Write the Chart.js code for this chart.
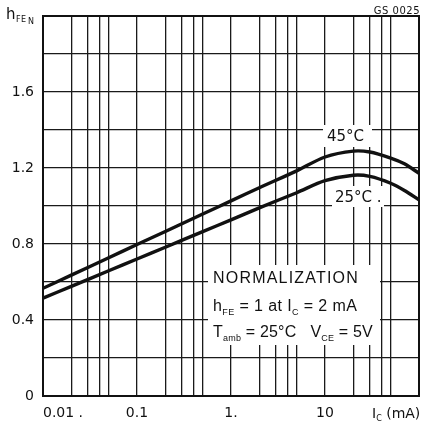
<!DOCTYPE html>
<html>
<head>
<meta charset="utf-8">
<script src="https://cdn.jsdelivr.net/npm/chart.js@4/dist/chart.umd.min.js"></script>
<style>
  html, body { margin: 0; padding: 0; background: #fff; }
  #wrap { width: 424px; height: 426px; }
</style>
</head>
<body>
<div id="wrap"><canvas id="hfeChart" width="424" height="426"></canvas></div>
<script>
// collector current Ic (mA)
var currents = [0.01, 0.02, 0.05, 0.1, 0.2, 0.5, 1, 2, 5, 10, 20, 30, 50, 70, 100];
// normalized hFE, 45 degC
var hfe45 = [0.567, 0.636, 0.728, 0.797, 0.866, 0.958, 1.027, 1.096, 1.185, 1.258, 1.289, 1.284, 1.252, 1.222, 1.172];
// normalized hFE, 25 degC
var hfe25 = [0.515, 0.577, 0.659, 0.721, 0.783, 0.865, 0.927, 0.99, 1.07, 1.133, 1.162, 1.156, 1.12, 1.082, 1.032];

// grid lines on the log axis: 1,2,3,4,5 of every decade
var xGrid = [0.01, 0.02, 0.03, 0.04, 0.05, 0.1, 0.2, 0.3, 0.4, 0.5, 1, 2, 3, 4, 5, 10, 20, 30, 40, 50, 100];
var xLabels = {0.01: '         0.01 .', 0.1: '0.1', 1: '1.', 10: '10'};
var yLabels = [0, 0.4, 0.8, 1.2, 1.6];

function toPoints(xs, ys) {
    return xs.map(function (x, i) { return {x: x, y: ys[i]}; });
}

// draw a run of text pieces, some of them subscripts
function drawRich(ctx, parts, x, y, size, family, spacing) {
    parts.forEach(function (p) {
        var s = p.sub ? Math.round(size * 0.58) : size;
        ctx.font = s + 'px ' + family;
        ctx.letterSpacing = (spacing || 0) + 'px';
        ctx.fillText(p.t, x, y + (p.sub ? size * 0.22 : 0));
        x += ctx.measureText(p.t).width;
    });
    ctx.letterSpacing = '0px';
}

var notes = {
    id: 'notes',
    beforeDatasetsDraw: function (chart) {
        var ctx = chart.ctx;
        ctx.save();
        ctx.fillStyle = '#fff';
        ctx.fillRect(208, 265, 172, 80);
        ctx.fillRect(323, 125, 49, 22);
        ctx.fillRect(332, 186, 52, 21);

        ctx.fillStyle = '#111';
        ctx.textBaseline = 'alphabetic';
        ctx.textAlign = 'left';
        ctx.font = '16px "Liberation Sans"';
        ctx.letterSpacing = '1.2px';
        ctx.fillText('NORMALIZATION', 213, 283);
        ctx.letterSpacing = '0px';
        drawRich(ctx, [{t: 'h'}, {t: 'FE', sub: true}, {t: ' = 1 at I'}, {t: 'C', sub: true}, {t: ' = 2 mA'}],
            213, 311, 16, '"Liberation Sans"', 0.4);
        drawRich(ctx, [{t: 'T'}, {t: 'amb', sub: true}, {t: ' = 25\u00b0C   V'}, {t: 'CE', sub: true}, {t: ' = 5V'}],
            213, 337, 16, '"Liberation Sans"', 0.2);

        ctx.font = '15px "DejaVu Sans"';
        ctx.fillText('45\u00b0C', 327, 141);
        ctx.fillText('25\u00b0C .', 335, 202);
        ctx.restore();
    },
    afterDraw: function (chart) {
        var ctx = chart.ctx, a = chart.chartArea;
        ctx.save();
        ctx.strokeStyle = '#111';
        ctx.lineWidth = 2;
        ctx.strokeRect(a.left, a.top, a.right - a.left, a.bottom - a.top);

        ctx.fillStyle = '#111';
        ctx.textAlign = 'left';
        ctx.textBaseline = 'alphabetic';
        ctx.font = '15px "DejaVu Sans"';
        ctx.fillText('h', 6, 19);
        ctx.font = '8px "DejaVu Sans"';
        ctx.letterSpacing = '0.4px';
        ctx.fillText('FE', 16, 22);
        ctx.fillText('N', 28, 24);

        ctx.font = '10px "DejaVu Sans"';
        ctx.letterSpacing = '0.5px';
        ctx.textAlign = 'right';
        ctx.fillText('GS 0025', 420, 14);
        ctx.letterSpacing = '0px';
        ctx.textAlign = 'left';

        drawRich(ctx, [{t: 'I'}, {t: 'C', sub: true}, {t: ' (mA)'}], 372, 418, 14, '"DejaVu Sans"', 0);
        ctx.restore();
    }
};

var ctx = document.getElementById('hfeChart').getContext('2d');
var myChart = new Chart(ctx, {
    type: 'line',
    data: {
        datasets: [{
            label: '45\u00b0C',
            data: toPoints(currents, hfe45),
            borderColor: '#111',
            borderWidth: 3.4,
            pointRadius: 0,
            fill: false,
            tension: 0.3
        }, {
            label: '25\u00b0C',
            data: toPoints(currents, hfe25),
            borderColor: '#111',
            borderWidth: 3.4,
            pointRadius: 0,
            fill: false,
            tension: 0.3
        }]
    },
    options: {
        responsive: false,
        animation: false,
        devicePixelRatio: 1,
        layout: {padding: {top: 16, right: 5, left: 0, bottom: 0}},
        plugins: {
            legend: {display: false},
            tooltip: {enabled: false}
        },
        scales: {
            x: {
                type: 'logarithmic',
                min: 0.01,
                max: 100,
                afterBuildTicks: function (scale) {
                    scale.ticks = xGrid.map(function (v) { return {value: v}; });
                },
                afterFit: function (scale) { scale.height = 30; },
                grid: {color: '#1a1a1a', lineWidth: 1.3, drawTicks: true, tickLength: 9, tickColor: 'rgba(0,0,0,0)'},
                border: {color: '#111', width: 2},
                ticks: {
                    autoSkip: false,
                    maxRotation: 0,
                    padding: 0,
                    color: '#111',
                    font: {family: '"DejaVu Sans"', size: 14},
                    callback: function (value) {
                        return xLabels[value] !== undefined ? xLabels[value] : '';
                    }
                }
            },
            y: {
                min: 0,
                max: 2,
                afterFit: function (scale) { scale.width = 43; },
                grid: {color: '#1a1a1a', lineWidth: 1.3, drawTicks: true, tickLength: 9, tickColor: 'rgba(0,0,0,0)'},
                border: {color: '#111', width: 2},
                ticks: {
                    stepSize: 0.2,
                    padding: 0,
                    color: '#111',
                    font: {family: '"DejaVu Sans"', size: 14},
                    callback: function (value) {
                        var v = Math.round(value * 10) / 10;
                        return yLabels.indexOf(v) >= 0 ? String(v) : '';
                    }
                }
            }
        }
    },
    plugins: [notes]
});
</script>
</body>
</html>
